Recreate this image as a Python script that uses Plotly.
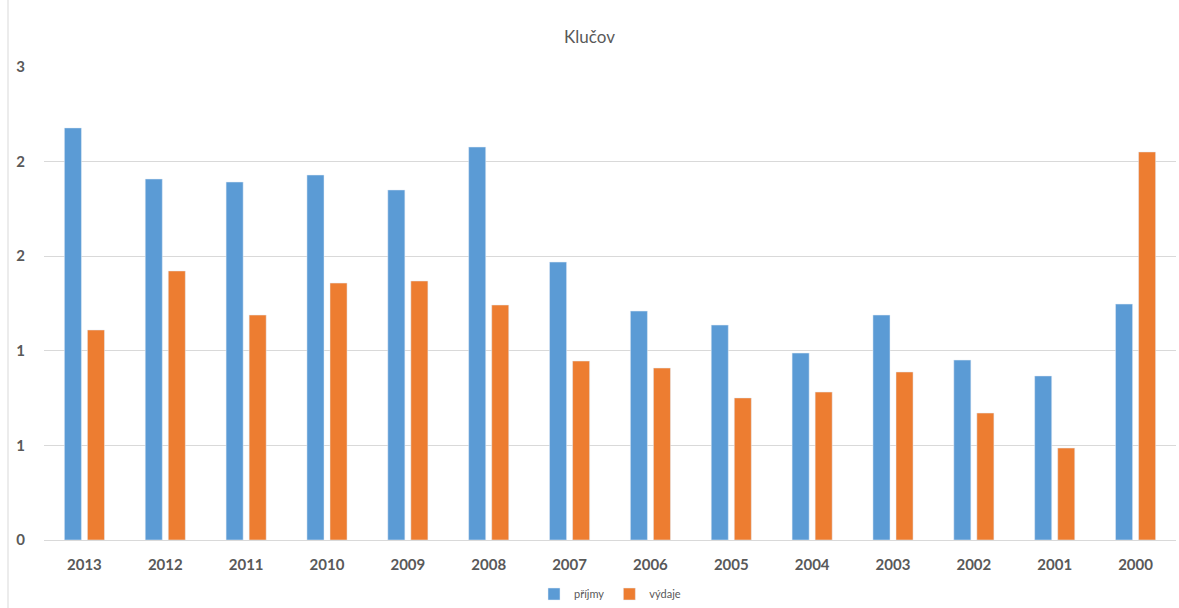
import plotly.graph_objects as go

years = ["2013", "2012", "2011", "2010", "2009", "2008", "2007", "2006",
         "2005", "2004", "2003", "2002", "2001", "2000"]
prijmy = [2.178, 1.908, 1.892, 1.929, 1.850, 2.077, 1.469, 1.210,
          1.136, 0.988, 1.189, 0.951, 0.867, 1.247]
vydaje = [1.110, 1.422, 1.189, 1.358, 1.369, 1.242, 0.946, 0.909,
          0.751, 0.782, 0.888, 0.671, 0.486, 2.051]
ytickvals = [0, 0.5, 1.0, 1.5, 2.0, 2.5]
yticktext = ["0", "1", "1", "2", "2", "3"]

FONT = "Lato, Liberation Sans, sans-serif"
GRAY = "#595959"

fig = go.Figure()
fig.add_trace(go.Bar(x=years, y=prijmy, name="příjmy", marker_color="#5B9BD5"))
fig.add_trace(go.Bar(x=years, y=vydaje, name="výdaje", marker_color="#ED7D31"))

fig.update_layout(
    width=1179, height=608,
    margin=dict(l=44, r=3, t=67, b=68, autoexpand=False),
    paper_bgcolor="white", plot_bgcolor="white",
    barmode="group", bargap=0.43, bargroupgap=0.26,
    title=dict(text="Klučov", x=0.5, xanchor="center", y=1 - 37 / 608, yanchor="middle",
               font=dict(family=FONT, size=17, color=GRAY)),
    font=dict(family=FONT, color=GRAY),
    legend=dict(orientation="h", x=0.5, xanchor="center", y=-54 / 473, yanchor="middle",
                font=dict(family=FONT, size=11, color=GRAY), itemwidth=30,
                traceorder="normal"),
    xaxis=dict(showgrid=False, showline=False, ticks="", automargin=False,
               ticklabelstandoff=14,
               tickfont=dict(family=FONT, size=15, color=GRAY, weight="bold")),
    yaxis=dict(range=[0, 2.5], tickvals=ytickvals, ticktext=yticktext, automargin=False,
               showgrid=True, gridcolor="#D9D9D9", gridwidth=1, zeroline=True,
               zerolinecolor="#D9D9D9", zerolinewidth=1, showline=False,
               ticklabelstandoff=18,
               tickfont=dict(family=FONT, size=15, color=GRAY, weight="bold")),
    shapes=[dict(type="line", xref="paper", yref="paper", x0=-36 / 1132, x1=-36 / 1132,
                 y0=-68 / 473, y1=1 + 67 / 473, line=dict(color="#D9D9D9", width=1))],
)

fig.write_html("out.html", config={"displayModeBar": False},
               post_script="document.body.style.margin='0';document.body.style.padding='0';")
